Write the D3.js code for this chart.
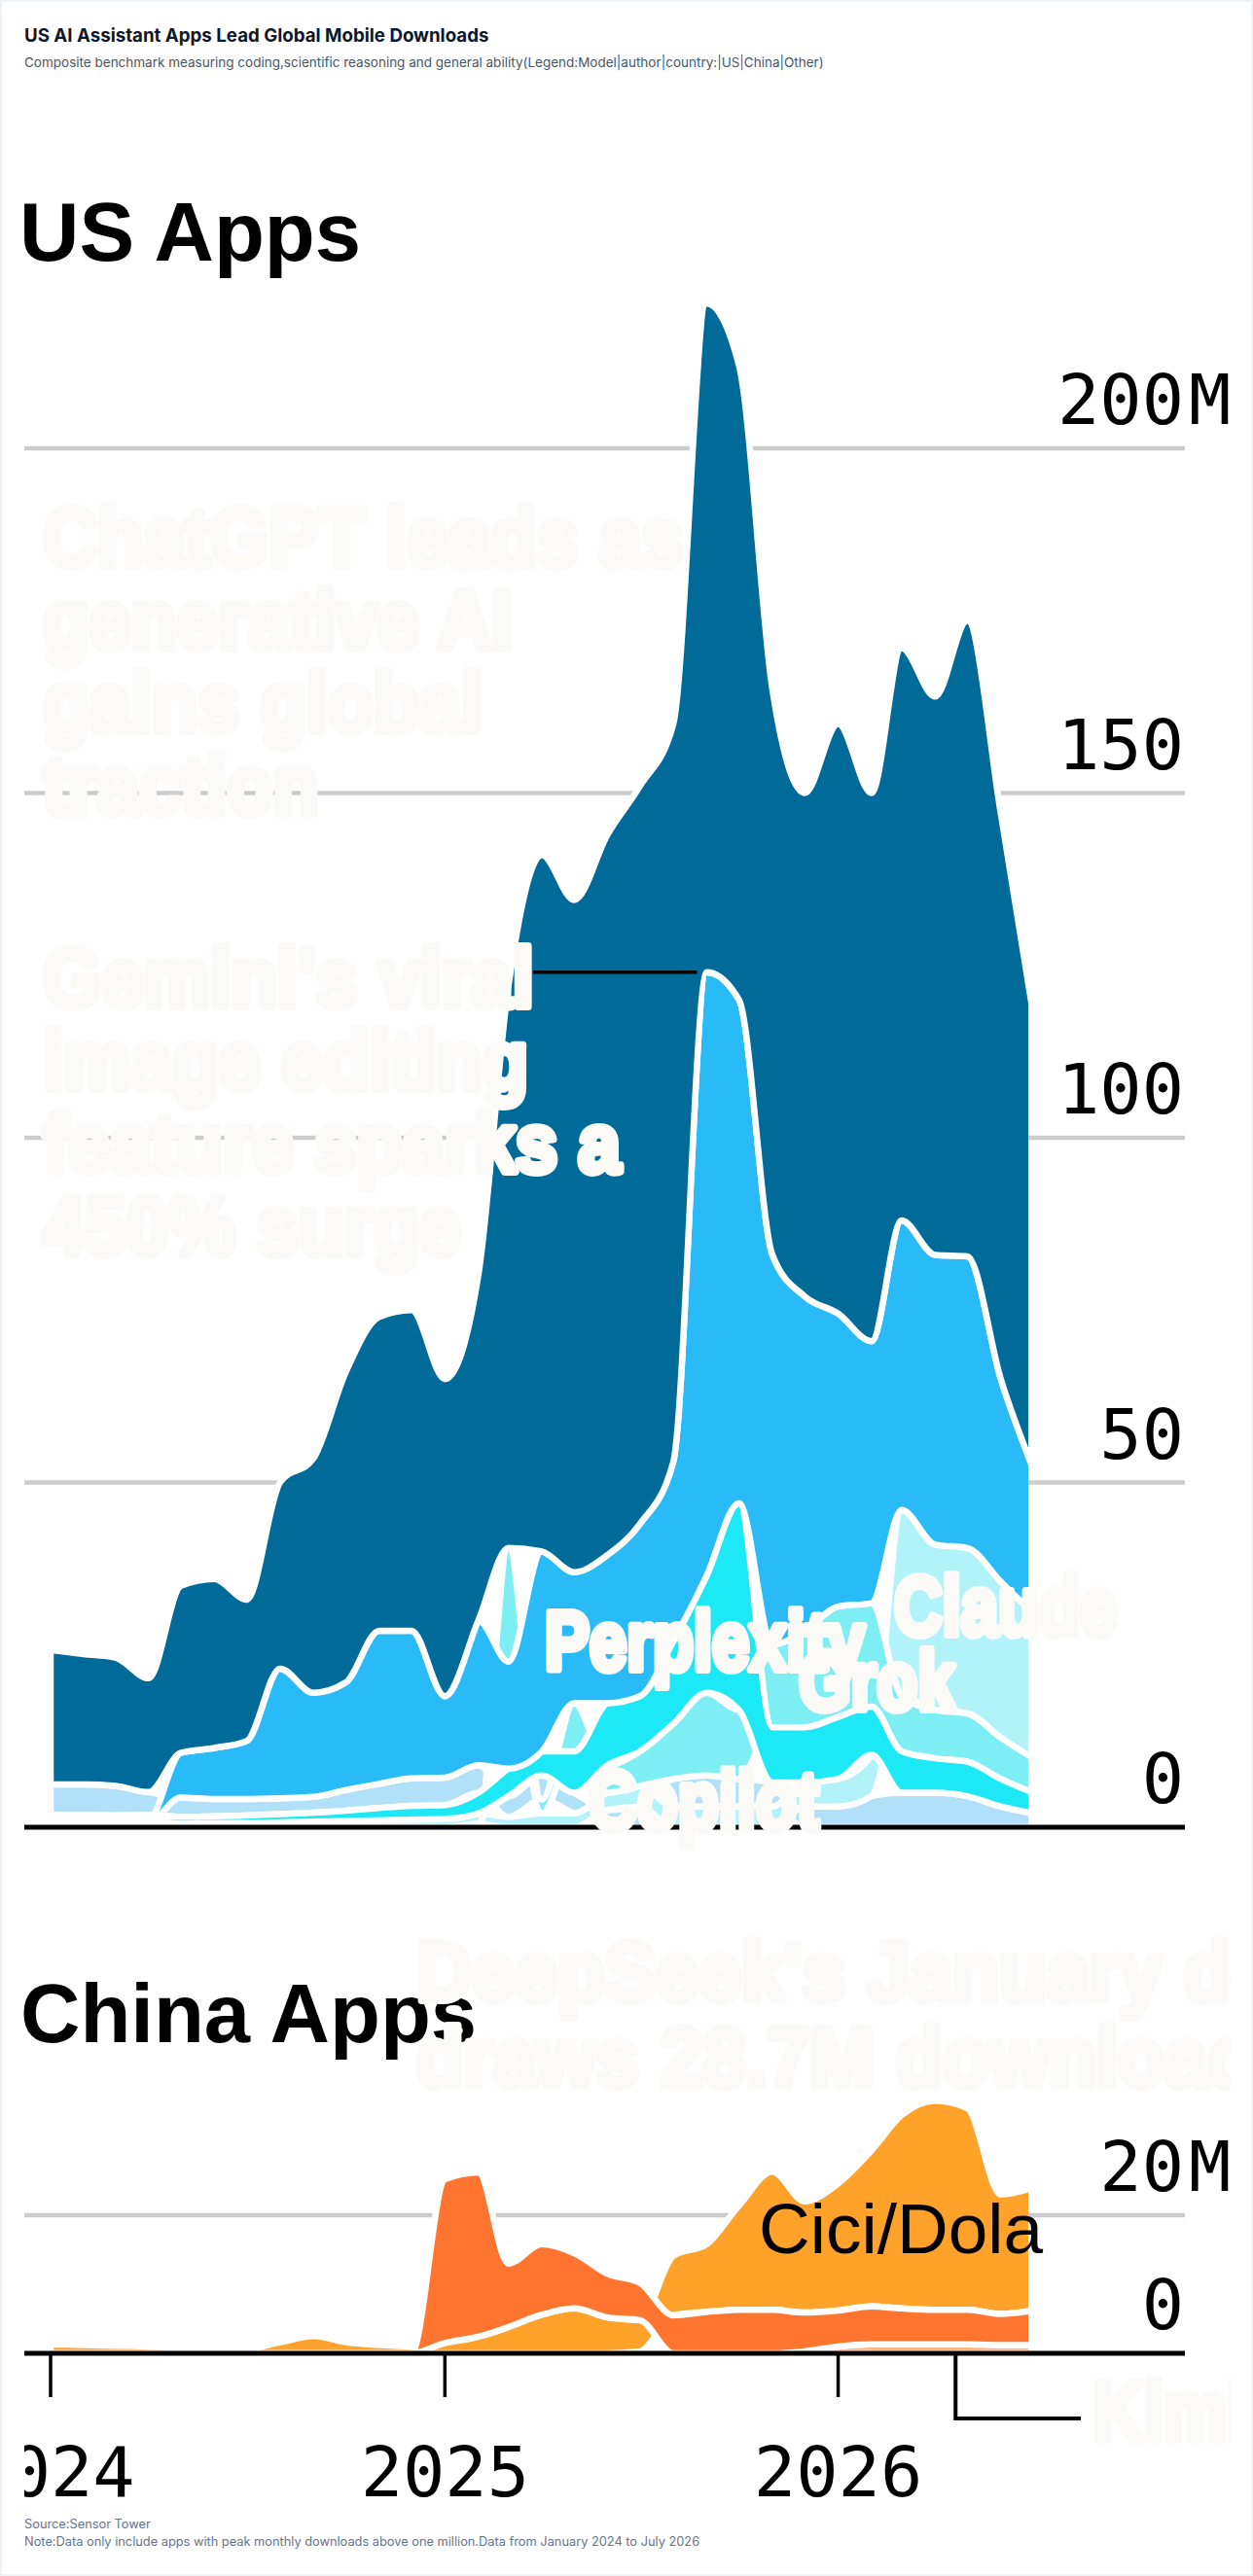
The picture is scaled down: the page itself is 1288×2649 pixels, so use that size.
<!DOCTYPE html>
<html><head><meta charset="utf-8">
<script src="https://cdn.jsdelivr.net/npm/d3@7"></script>
<style>
html,body{margin:0;padding:0;background:#eef3f7;}
svg{display:block;}
.hdr{font-family:Inter,"Noto Sans",sans-serif;}
.big{font-family:"Liberation Sans",Arial,Helvetica,sans-serif;font-weight:bold;font-size:85px;fill:#000;}
.mono{font-family:"DejaVu Sans Mono",monospace;font-size:72px;fill:#000;}
.faint{font-family:"Liberation Sans",Arial,sans-serif;font-weight:bold;font-size:86px;fill:#fbfaf6;stroke:#fbfaf6;stroke-width:8;stroke-linejoin:round;paint-order:stroke;}
</style></head>
<body>
<svg id="chart" width="1288" height="2649"></svg>
<script>
// ---------- DATA ----------
const months = d3.range(31).map(i => new Date(2024, i, 1)); // Jan 2024 .. Jul 2026
const yearTicks = [new Date(2024,0,1), new Date(2025,0,1), new Date(2026,0,1)];
const yearLabels = ["2024","2025","2026"];
const usTicks = [0,50,100,150,200];
const cnTicks = [0,20];

const usNames  = ["ChatGPT","Gemini","Perplexity","Grok","Claude","Copilot"];
const usColors = ["#006a99","#29bbf8","#1de9f6","#7eeef5","#b2f3fa","#b0e1f8"];
const usChatGPT    = [19.5,18.9,18.6,16.5,24.2,24.5,20.5,27,34,45,45.5,46.5,46,50,81.5,101,97.5,104.5,107,107,97,92,82,73,85.5,79.5,83,81,92.2,82,66];
const usGemini     = [0.4,0.4,0.4,0.5,6.5,7.4,8.4,18.8,15.1,15.6,22.2,21.4,11.8,21,15.5,29,19,21.5,25,26,87.5,73,56.5,48.5,42.5,38,42,42,42.3,29.4,21];
const usPerplexity = [0.9,0.9,0.8,0.8,1,1,1.1,1.2,1.3,1.5,1.8,2,2,3,4,3.5,6,9,8,12,17,30,8,8,9,7,6,5,5,4,3];
const usGrok       = [0,0,0,0,0,0,0,0,0,0,0,0,0,0.5,16.5,2,7,4,5,8,12,10,12,14,16,15,8,7,7,6,5];
const usClaude     = [0.5,0.5,0.5,0.5,0.5,0.6,0.6,0.7,0.8,0.9,1,1.1,1.2,1.5,1.5,2,2,2.5,3,3,3,3,3,3.5,4,6,27,24,24,22.6,21];
const usCopilot    = [4.4,4.4,4.3,3.3,2.8,2.5,2.4,2.3,2.3,3,3.5,4,4,4,3,3.5,3,2.5,3,4,4.5,4,3.5,3,3,4.5,5,5,4.5,3,2];

const cnNames  = ["DeepSeek","Cici/Dola","Kimi"];
const cnColors = ["#ff752f","#ffa229","#ffb383"];
const cnDeepSeek = [0,0,0,0,0,0,0,0,0,0,0,0,23.7,23.8,9.2,10.2,8,6.3,5.4,5.5,6,6.3,6.3,5.6,5.2,5.5,5.2,5,5,4.5,5];
const cnCiciDola = [1.3,1.2,1.1,1.0,0.9,0.9,0.7,1.6,2.5,1.6,1.2,1.0,1.5,2.4,3.8,5.6,6.5,5.2,4.5,8.6,9.8,15.1,20,16.1,18.4,22.6,28,30.3,29.2,17.3,17.8];
const cnKimi     = [0,0,0,0,0,0,0,0,0,0,0,0,0,0,0,0,0,0,0.3,0,0,0,0,0.3,1,1.3,1.3,1.3,1.3,1.2,1.2];

// ---------- SETUP ----------
const W = 1288, H = 2649;
const svg = d3.select("#chart");
svg.append("rect").attr("width",W).attr("height",H).attr("fill","#eef3f7");
svg.append("rect").attr("x",2).attr("y",2).attr("width",W-4).attr("height",H-4).attr("fill","#ffffff");

const defs = svg.append("defs");
defs.append("clipPath").attr("id","frameClip").append("rect").attr("x",25).attr("y",0).attr("width",1240).attr("height",H);
defs.append("clipPath").attr("id","dataClip").append("rect").attr("x",0).attr("y",0).attr("width",1057).attr("height",H);

const x = d3.scaleTime().domain([months[0], months[months.length-1]]).range([52,1062]);
const yUS = d3.scaleLinear().domain([0,200]).range([1879,461]);
const yCN = d3.scaleLinear().domain([0,20]).range([2420,2278]);
const gridX0 = 25, gridX1 = 1218;

// header
svg.append("text").attr("class","hdr").attr("x",25).attr("y",43)
  .style("font-size","18.7px").style("font-weight","700").attr("fill","#0f172a")
  .text("US AI Assistant Apps Lead Global Mobile Downloads");
svg.append("text").attr("class","hdr").attr("x",25).attr("y",69)
  .style("font-size","13.5px").attr("fill","#4b5563")
  .text("Composite benchmark measuring coding,scientific reasoning and general ability(Legend:Model|author|country:|US|China|Other)");

// panel titles (drawn under annotations)
svg.append("text").attr("class","big").attr("x",20).attr("y",268).text("US Apps");
svg.append("text").attr("class","big").attr("x",21).attr("y",2100).text("China Apps");

const frame = svg.append("g").attr("clip-path","url(#frameClip)");

// per-time sorted stacking (smallest at bottom)
function sortedStack(names, arrays){
  const layers = names.map((n,k)=>({name:n, idx:k, pts:[]}));
  months.forEach((d,i)=>{
    const order = d3.range(names.length).sort((a,b)=> (arrays[a][i]-arrays[b][i]) || (b-a));
    let acc = 0;
    order.forEach(k=>{ const v = arrays[k][i]; layers[k].pts.push({d, y0:acc, y1:acc+v}); acc += v; });
  });
  return layers;
}

function drawPanel(g, y, ticks, names, colors, arrays){
  g.append("g").selectAll("line").data(ticks.filter(t=>t>0)).join("line")
    .attr("x1",gridX0).attr("x2",gridX1).attr("y1",d=>y(d)).attr("y2",d=>y(d))
    .attr("stroke","#cccccc").attr("stroke-width",4.5);
  const layers = sortedStack(names, arrays);
  const area = d3.area().x(p=>x(p.d)).y0(p=>y(p.y0)).y1(p=>y(p.y1)).curve(d3.curveMonotoneX);
  const ag = g.append("g").attr("clip-path","url(#dataClip)");
  layers.slice().reverse().forEach(l=>{
    ag.append("path").attr("d", area(l.pts)).attr("fill", colors[l.idx])
      .attr("stroke","#ffffff").attr("stroke-width",6.5).attr("stroke-linejoin","round");
  });
  g.append("line").attr("x1",gridX0).attr("x2",gridX1).attr("y1",y(0)).attr("y2",y(0))
    .attr("stroke","#000").attr("stroke-width",5);
  const maxT = d3.max(ticks);
  g.append("g").selectAll("text").data(ticks).join("text").attr("class","mono")
    .attr("x",1217).attr("y",d=>y(d)-25).attr("text-anchor","end").text(d=>d3.format("d")(d));
  g.append("text").attr("class","mono").attr("x",1222).attr("y",y(maxT)-25).text("M");
  return layers;
}

// ---------- US PANEL ----------
const usArrays = [usChatGPT,usGemini,usPerplexity,usGrok,usClaude,usCopilot];
drawPanel(frame, yUS, usTicks, usNames, usColors, usArrays);

// ---------- CHINA PANEL ----------
const cnArrays = [cnDeepSeek,cnCiciDola,cnKimi];
drawPanel(frame, yCN, cnTicks, cnNames, cnColors, cnArrays);

// x axis ticks + labels
const xa = frame.append("g");
xa.selectAll("line").data(yearTicks).join("line")
  .attr("x1",d=>x(d)).attr("x2",d=>x(d)).attr("y1",yCN(0)).attr("y2",yCN(0)+45)
  .attr("stroke","#000").attr("stroke-width",3.5);
xa.selectAll("text").data(yearTicks).join("text").attr("class","mono")
  .attr("x",d=>x(d)).attr("y",2567).attr("text-anchor","middle").text((d,i)=>yearLabels[i]);

// connectors
const usS2 = months.map((d,i)=> usArrays.slice(1).reduce((s,a)=>s+a[i],0));
frame.append("line").attr("x1",548).attr("x2",x(months[20])-10)
  .attr("y1",yUS(usS2[20])).attr("y2",yUS(usS2[20]))
  .attr("stroke","#000").attr("stroke-width",3.5);
const kimiX = x(new Date(2026,3,20));
frame.append("path").attr("d",`M${kimiX},${yCN(0)}V2487H1111`)
  .attr("fill","none").attr("stroke","#000").attr("stroke-width",4);

// series label
frame.append("text").attr("x",780).attr("y",2317)
  .style("font-family","'Liberation Sans',Arial,sans-serif").style("font-size","73px").attr("fill","#000")
  .text("Cici/Dola");

// faint annotations & labels (on top of everything)
const faintG = frame.append("g");
function faint(lines, x0, y0, lh, sx, fs){
  lines.forEach((t,i)=> faintG.append("text").attr("class","faint")
    .attr("transform",`translate(${x0},${y0+i*lh}) scale(${sx},1)`)
    .style("font-size", fs+"px").text(t));
}
faint(["ChatGPT leads as","generative AI","gains global","traction"], 44, 582, 85, 0.9, 86);
faint(["Gemini's viral","image editing","feature sparks a","450% surge"], 44, 1035, 85, 0.9, 86);
faint(["DeepSeek's January debut","draws 28.7M downloads"], 428, 2057, 88, 0.92, 86);
faint(["Perplexity"], 560, 1717, 0, 0.8, 86);
faint(["Claude"], 919, 1681, 0, 0.8, 86);
faint(["Grok"], 821, 1758, 0, 0.8, 86);
faint(["Copilot"], 605, 1881, 0, 0.8, 86);
faint(["Kimi"], 1123, 2509, 0, 0.85, 86);

// footer
svg.append("text").attr("class","hdr").attr("x",25).attr("y",2600).style("font-size","12.8px").attr("fill","#64748b")
  .text("Source:Sensor Tower");
svg.append("text").attr("class","hdr").attr("x",25).attr("y",2618).style("font-size","12.8px").attr("fill","#64748b")
  .text("Note:Data only include apps with peak monthly downloads above one million.Data from January 2024 to July 2026");
</script>
</body></html>
